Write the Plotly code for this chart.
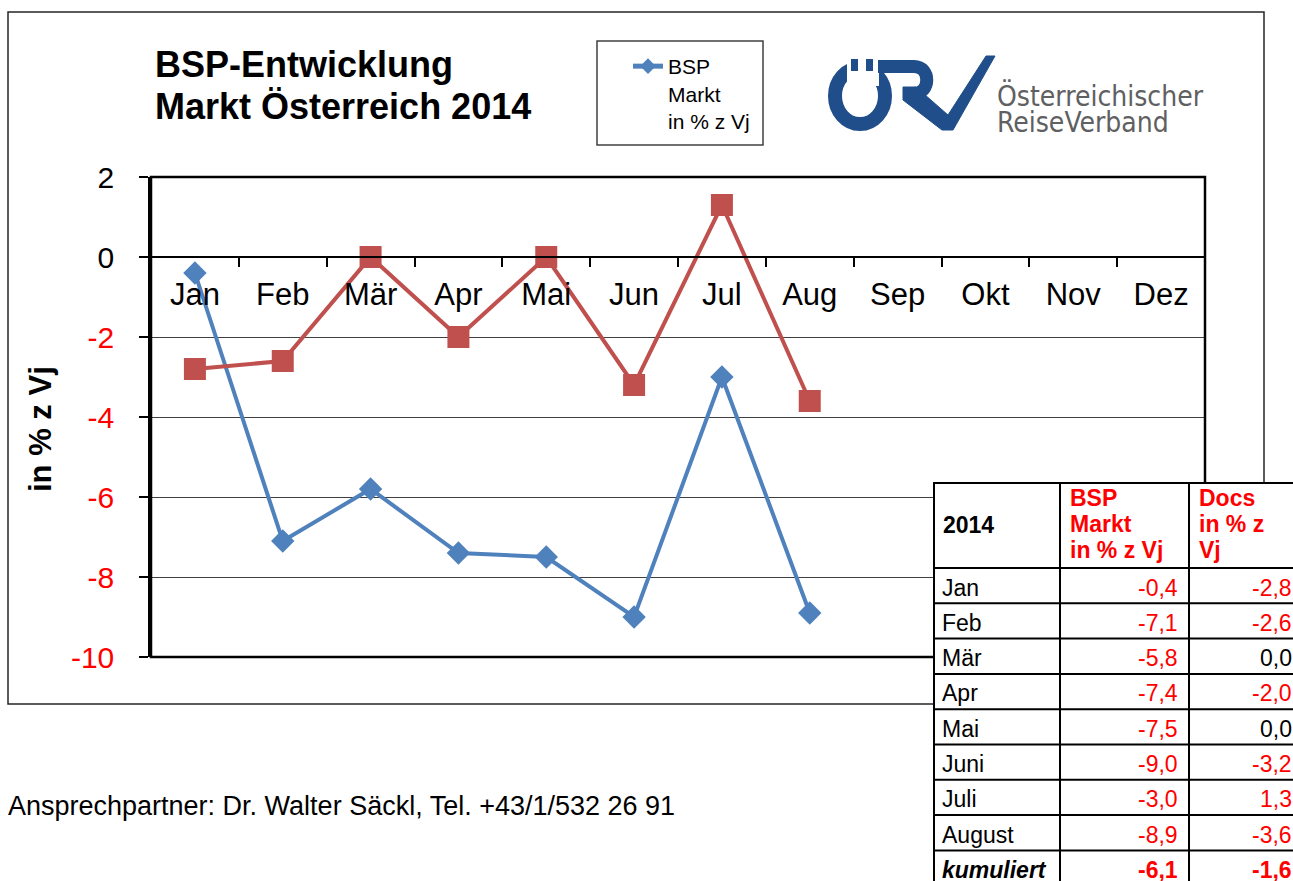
import plotly.graph_objects as go

# ---------------- data ----------------
months = ["Jan", "Feb", "Mär", "Apr", "Mai", "Jun", "Jul", "Aug", "Sep", "Okt", "Nov", "Dez"]
bsp_markt = [-0.4, -7.1, -5.8, -7.4, -7.5, -9.0, -3.0, -8.9]
docs = [-2.8, -2.6, 0.0, -2.0, 0.0, -3.2, 1.3, -3.6]
y_ticks = [-10, -8, -6, -4, -2, 0, 2]
table_months = ["Jan", "Feb", "Mär", "Apr", "Mai", "Juni", "Juli", "August"]
cum_label = "kumuliert"
cum_bsp = -6.1
cum_docs = -1.6

W, H = 1293, 881
FONT = "Liberation Sans, Arial, sans-serif"
BLUE = "#4F81BD"
RED_S = "#C0504D"
LOGO_BLUE = "#1F4E8A"


def px(x):
    return x / W


def py(y):
    return 1 - y / H


def fmt(v):
    return f"{v:.1f}".replace(".", ",")


fig = go.Figure()

fig.add_trace(go.Scatter(
    x=months[:len(bsp_markt)], y=bsp_markt, mode="lines+markers",
    name="BSP<br>Markt<br>in % z Vj",
    line=dict(color=BLUE, width=4),
    marker=dict(symbol="diamond", size=18, color=BLUE),
    showlegend=True,
))
fig.add_trace(go.Scatter(
    x=months[:len(docs)], y=docs, mode="lines+markers",
    name="Docs in % z Vj",
    line=dict(color=RED_S, width=4),
    marker=dict(symbol="square", size=22, color=RED_S),
    showlegend=False,
))

tick_text = [(f"<span style='color:#FF0000'>{v}</span>" if v < 0 else str(v)) for v in y_ticks]

# plot area (pixels): x 151..1205, y 177..657 ; zero line at 257
fig.update_layout(
    width=W, height=H,
    margin=dict(l=0, r=0, t=0, b=0),
    paper_bgcolor="white", plot_bgcolor="white",
    font=dict(family=FONT, color="black"),
    xaxis=dict(
        type="category", categoryorder="array", categoryarray=months,
        range=[-0.5, 11.5], domain=[px(151), px(1205)],
        anchor="free", position=py(257),
        showgrid=False, zeroline=False,
        showline=True, linecolor="black", linewidth=2,
        ticks="outside", ticklen=9, tickwidth=2, tickcolor="black",
        tickson="boundaries",
        tickfont=dict(size=31, family=FONT, color="black"),
        ticklabelstandoff=10,
        automargin=False, fixedrange=True,
    ),
    yaxis=dict(
        range=[-10, 2], domain=[py(657), py(177)],
        anchor="x",
        tickmode="array", tickvals=y_ticks, ticktext=tick_text,
        showgrid=True, gridcolor="#404040", gridwidth=1.2,
        zeroline=False,
        showline=True, linecolor="black", linewidth=2.5,
        ticks="outside", ticklen=9, tickwidth=1.5, tickcolor="black",
        tickfont=dict(size=30, family=FONT, color="black"),
        ticklabelstandoff=19,
        automargin=False, fixedrange=True,
    ),
    legend=dict(
        x=px(628), y=py(46), xanchor="left", yanchor="top",
        bgcolor="rgba(0,0,0,0)", borderwidth=0,
        font=dict(size=21, family=FONT, color="black"),
        itemsizing="constant", valign="top",
    ),
    showlegend=True,
)

shapes = []
# outer chart box
shapes.append(dict(type="rect", xref="paper", yref="paper",
                   x0=px(8), x1=px(1264), y0=py(704), y1=py(12),
                   line=dict(color="#262626", width=1.5), layer="below"))
# plot-area frame
shapes.append(dict(type="rect", xref="x domain", yref="y domain",
                   x0=0, x1=1, y0=0, y1=1,
                   line=dict(color="black", width=2.5), layer="above"))
# legend box
shapes.append(dict(type="rect", xref="paper", yref="paper",
                   x0=px(597), x1=px(763), y0=py(145), y1=py(41),
                   line=dict(color="#404040", width=1.5), layer="above"))

# ---- logo ----
shapes.append(dict(type="circle", xref="paper", yref="paper",
                   x0=px(835), x1=px(885), y0=py(124), y1=py(68),
                   line=dict(color=LOGO_BLUE, width=14), layer="above"))
shapes.append(dict(type="rect", xref="paper", yref="paper",
                   x0=px(847), x1=px(879), y0=py(86), y1=py(52),
                   fillcolor="white", line=dict(width=0), layer="above"))
for dx0, dx1 in [(851, 858), (866, 873)]:
    shapes.append(dict(type="rect", xref="paper", yref="paper",
                       x0=px(dx0), x1=px(dx1), y0=py(71), y1=py(59),
                       fillcolor=LOGO_BLUE, line=dict(width=0), layer="above"))

r_path = (f"M {px(878)},{py(66.5)} L {px(914)},{py(66.5)} "
          f"C {px(931)},{py(66.5)} {px(931)},{py(93.5)} {px(914)},{py(93.5)} "
          f"L {px(903)},{py(93.5)}")
shapes.append(dict(type="path", xref="paper", yref="paper", path=r_path,
                   line=dict(color=LOGO_BLUE, width=13), layer="above"))
v_pts = [(903, 87), (916, 87), (948, 115), (986, 56), (995, 56), (953, 130), (942, 130), (903, 100)]
v_path = "M " + " L ".join(f"{px(a)},{py(b)}" for a, b in v_pts) + " Z"
shapes.append(dict(type="path", xref="paper", yref="paper", path=v_path,
                   fillcolor=LOGO_BLUE, line=dict(color=LOGO_BLUE, width=1), layer="above"))

# ---- table ----
TL, C1, C2 = 934, 1060, 1189
TT, HB, RH = 483, 568, 35.3
n_rows = len(table_months) + 1
shapes.append(dict(type="rect", xref="paper", yref="paper",
                   x0=px(TL), x1=1, y0=0, y1=py(TT),
                   fillcolor="white", line=dict(width=0), layer="above"))
hlines = [TT, HB] + [HB + RH * k for k in range(1, n_rows)]
for yy in hlines:
    shapes.append(dict(type="line", xref="paper", yref="paper",
                       x0=px(TL - 1), x1=1, y0=py(yy), y1=py(yy),
                       line=dict(color="black", width=2), layer="above"))
for xx in [TL, C1, C2]:
    shapes.append(dict(type="line", xref="paper", yref="paper",
                       x0=px(xx), x1=px(xx), y0=0, y1=py(TT - 1),
                       line=dict(color="black", width=2), layer="above"))

fig.update_layout(shapes=shapes)

ann = []


def add_text(x, y, text, size, color="black", xanchor="left", bold=False, italic=False, family=FONT):
    t = text
    if bold:
        t = f"<b>{t}</b>"
    if italic:
        t = f"<i>{t}</i>"
    ann.append(dict(x=px(x), y=py(y), xref="paper", yref="paper", text=t,
                    showarrow=False, xanchor=xanchor, yanchor="middle",
                    font=dict(size=size, color=color, family=family)))


# title
add_text(153, 64, "BSP-Entwicklung", 36, bold=True)
add_text(153, 107, "Markt Österreich 2014", 36, bold=True)

# y-axis title
ann.append(dict(x=px(40), y=py(429), xref="paper", yref="paper",
                text="<b>in % z Vj</b>", showarrow=False, textangle=-90,
                xanchor="center", yanchor="middle",
                font=dict(size=31, family=FONT, color="black")))

# logo text
LOGO_FONT = "DejaVu Sans Condensed, Roboto Condensed, Roboto, sans-serif"
add_text(995, 96, "Österreichischer", 28, color="#5F6062", family=LOGO_FONT)
add_text(995, 122, "ReiseVerband", 28, color="#5F6062", family=LOGO_FONT)

# footer
add_text(6, 806, "Ansprechpartner: Dr. Walter Säckl, Tel. +43/1/532 26 91", 27)

# table header
add_text(941, 525, "2014", 23, bold=True)
for i, line in enumerate(["BSP", "Markt", "in % z Vj"]):
    add_text(1068, 498 + 26 * i, line, 23, color="#FF0000", bold=True)
for i, line in enumerate(["Docs", "in % z", "Vj"]):
    add_text(1197, 498 + 26 * i, line, 23, color="#FF0000", bold=True)

# table rows
for k, (m, b, d) in enumerate(zip(table_months, bsp_markt, docs)):
    yc = HB + RH * k + 19.5
    add_text(940, yc, m, 23)
    add_text(1180, yc, fmt(b), 23, color=("#FF0000" if b != 0 else "black"), xanchor="right")
    add_text(1294, yc, fmt(d), 23, color=("#FF0000" if d != 0 else "black"), xanchor="right")
yc = HB + RH * len(table_months) + 19.5
add_text(940, yc, cum_label, 23, bold=True, italic=True)
add_text(1180, yc, fmt(cum_bsp), 23, color="#FF0000", xanchor="right", bold=True)
add_text(1294, yc, fmt(cum_docs), 23, color="#FF0000", xanchor="right", bold=True)

fig.update_layout(annotations=ann)

fig.write_html("out.html", config={"displayModeBar": False},
               post_script="document.body.style.margin='0';")
